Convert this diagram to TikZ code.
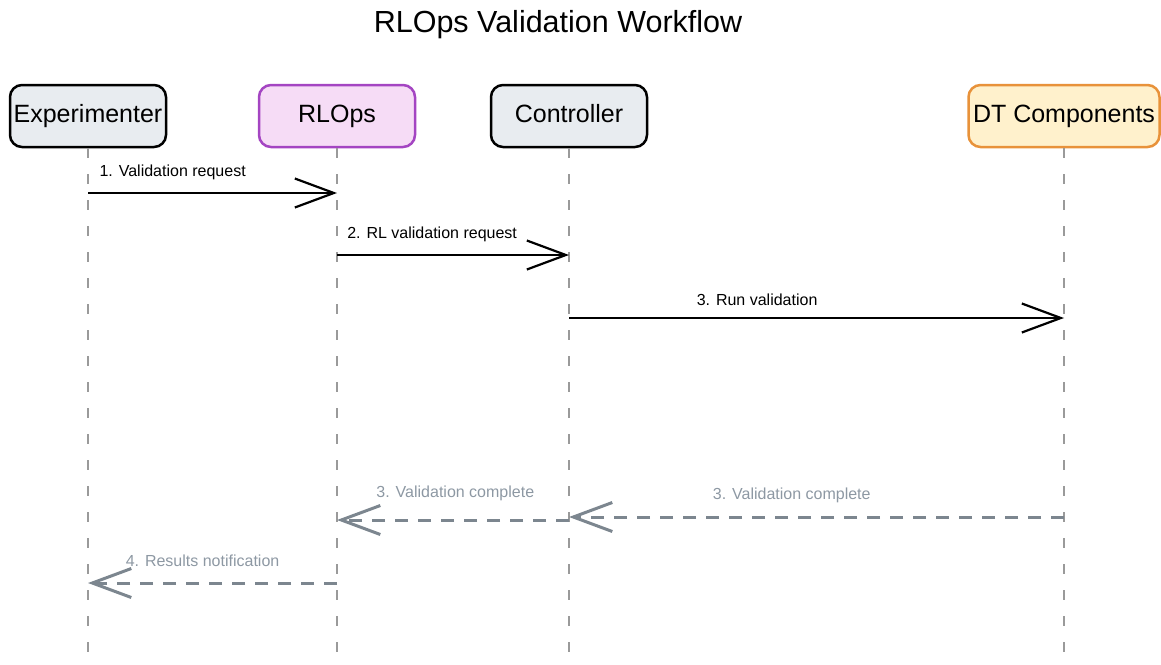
\documentclass[tikz,border=0pt]{standalone}
\usepackage{fontspec}
\setmainfont{Liberation Sans}
\usetikzlibrary{arrows.meta,positioning}
\definecolor{lanefill}{HTML}{E8ECF0}
\definecolor{rlfill}{HTML}{F6DCF6}
\definecolor{rldraw}{HTML}{A445C2}
\definecolor{dtfill}{HTML}{FFF1CC}
\definecolor{dtdraw}{HTML}{E8923A}
\definecolor{lifegray}{HTML}{9A9A9A}
\definecolor{retgray}{HTML}{7C868F}
\definecolor{rettext}{HTML}{8D98A3}

\begin{document}
\begin{tikzpicture}[x=1pt,y=-1pt,>={Straight Barb[length=39pt,width=29pt]},
                    node distance=249pt]
  \tikzstyle{actor}=[draw=black,fill=lanefill,line width=2.5pt,rounded corners=12pt,
                     minimum width=156pt,minimum height=62pt,inner xsep=3pt,
                     text height=18pt,text depth=5pt,
                     font=\fontsize{25}{30}\selectfont]
  \tikzstyle{lifeline}=[draw=lifegray,line width=2pt,dash pattern=on 10pt off 16pt]
  \tikzstyle{call}=[->,draw=black,line width=2.2pt]
  \tikzstyle{reply}=[->,draw=retgray,line width=3pt,dash pattern=on 13pt off 10pt]
  \tikzstyle{calltext}=[font=\fontsize{16}{19}\selectfont,text=black,anchor=base,inner sep=0pt]
  \tikzstyle{replytext}=[calltext,text=rettext]

  \useasboundingbox (0,0) rectangle (1161,664);

  \node[font=\fontsize{30.5}{36}\selectfont] (title) at (558,25) {RLOps Validation Workflow};

  \node[actor]                                    (exp) at (88,116) {Experimenter};
  \node[actor,fill=rlfill,draw=rldraw]            (rl)  [right of=exp] {RLOps};
  \node[actor,node distance=232pt]                (ctl) [right of=rl]  {Controller};
  \node[actor,fill=dtfill,draw=dtdraw,minimum width=191pt,node distance=495pt]
                                                  (dt)  [right of=ctl] {DT Components};

  \coordinate (bottom) at (0,664);
  \foreach \who in {exp,rl,ctl,dt}
    \path[lifeline] (\who.south) -- (\who |- bottom);

  % message rows
  \coordinate (m1) at (0,193);
  \coordinate (m2) at (0,255);
  \coordinate (m3) at (0,318);
  \coordinate (m4) at (0,517);
  \coordinate (m5) at (0,520);
  \coordinate (m6) at (0,583);

  \path (exp |- m1) edge[call]  node[calltext,pos=.34,yshift=17pt] {1. Validation request} (rl |- m1);
  \path (rl |- m2)  edge[call]  node[calltext,pos=.41,yshift=17pt] {2. RL validation request} (ctl |- m2);
  \path (ctl |- m3) edge[call]  node[calltext,pos=.38,yshift=13pt] {3. Run validation} (dt |- m3);
  \path (dt |- m4)  edge[reply] node[replytext,pos=.55,yshift=18pt] {3. Validation complete} (ctl |- m4);
  \path (ctl |- m5) edge[reply] node[replytext,pos=.49,yshift=23pt] {3. Validation complete} (rl |- m5);
  \path (rl |- m6)  edge[reply] node[replytext,pos=.54,yshift=17pt] {4. Results notification} (exp |- m6);

\end{tikzpicture}
\end{document}
